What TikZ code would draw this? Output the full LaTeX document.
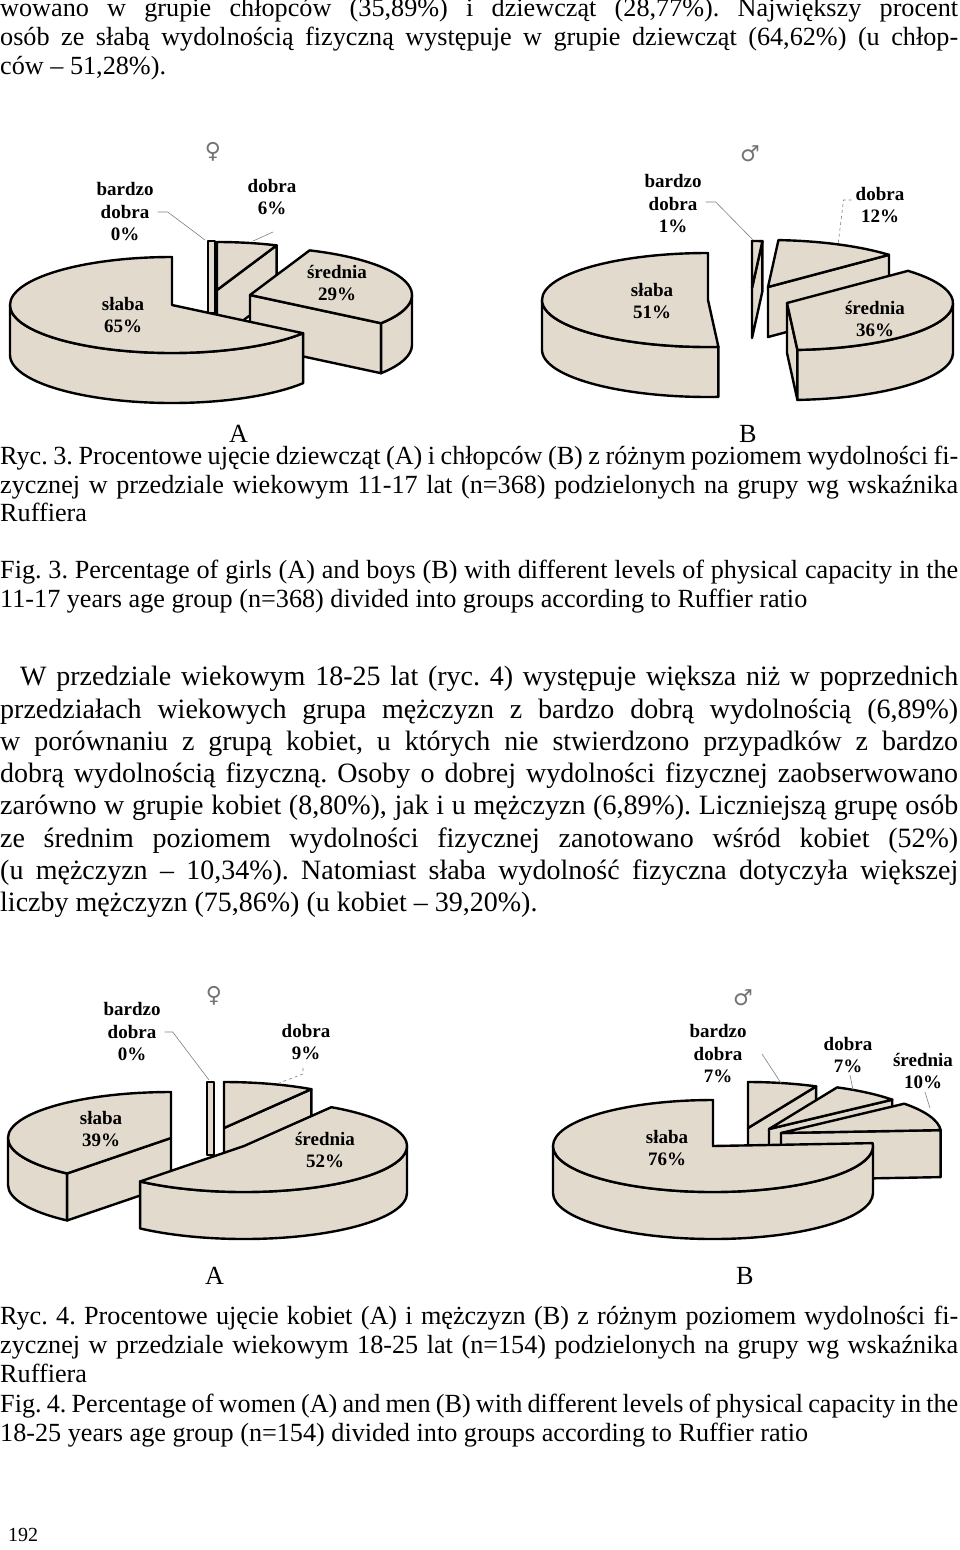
\documentclass[tikz,border=0pt]{standalone}
\usepackage{fontspec}
\setmainfont{Liberation Serif}
\newfontfamily\symfont{DejaVu Sans}
\definecolor{piefill}{RGB}{226,219,205}
\frenchspacing
\tikzset{
 x=1pt,y=1pt,
 pie/.style={fill=piefill,draw=black,line width=2.4pt,line join=round},
 txt/.style={anchor=mid west,inner sep=0,font=\frenchspacing\fontsize{26.2}{28}\selectfont},
 para/.style={anchor=mid west,inner sep=0,font=\frenchspacing\fontsize{28}{30}\selectfont},
 lab/.style={inner sep=0,align=center,font=\fontsize{19}{22.5}\bfseries\selectfont},
 sex/.style={inner sep=0,text=black!55,font=\symfont\fontsize{22}{24}\selectfont},
 lead/.style={draw=black!50,line width=0.6pt}
}
% radial face: cx cy rx ry h angle
\newcommand\radface[6]{\filldraw[pie,shift={(#1,-#2)}] (0,0) -- (#6:#3 and #4) -- ++(0,-#5) -- (0,-#5) -- cycle;}
% outer band: cx cy rx ry h b1 b2
\newcommand\band[7]{\filldraw[pie,shift={(#1,-#2)}] (#6:#3 and #4) arc[start angle=#6,end angle=#7,x radius=#3pt,y radius=#4pt] -- ++(0,-#5) arc[start angle=#7,end angle=#6,x radius=#3pt,y radius=#4pt] -- cycle;}
% top face: cx cy rx ry a1 a2
\newcommand\topface[6]{\filldraw[pie,shift={(#1,-#2)}] (0,0) -- (#5:#3 and #4) arc[start angle=#5,end angle=#6,x radius=#3pt,y radius=#4pt] -- cycle;}
\begin{document}
\begin{tikzpicture}
\useasboundingbox[fill=white] (0,0) rectangle (960,-1550);
% ---- text top
\node[txt] (t1) at (0,-14) {\makebox[958pt][s]{wowano w grupie chłopców (35,89\%) i dziewcząt (28,77\%). Największy procent}};
\node[txt] (t2) at (0,-43) {\makebox[958pt][s]{osób ze słabą wydolnością fizyczną występuje w grupie dziewcząt (64,62\%) (u chłop-}};
\node[txt] (t3) at (0,-72) {ców – 51,28\%).};
% ---- Fig 3A
\filldraw[pie,line width=1.6pt] (208,-241) rectangle (215,-313);
\radface{217}{290}{162}{48}{50}{68.4}
\topface{217}{290}{162}{48}{68.4}{90}
\radface{250}{295}{162}{48}{50}{-36}
\band{250}{295}{162}{48}{50}{-36}{0}
\topface{250}{295}{162}{48}{-36}{68.4}
\band{172}{305}{162}{48}{50}{180}{324}
\topface{172}{305}{162}{48}{90}{324}
\node[sex] (f3) at (213,-152) {♀};
\node[lab] (a3bd) at (125,-212) {bardzo\\dobra\\0\%};
\node[lab] (a3d) at (272,-197) {dobra\\6\%};
\node[lab] (a3s) at (337,-283) {średnia\\29\%};
\node[lab] (a3w) at (123,-315) {słaba\\65\%};
\coordinate (a3bde) at (205,-240);
\coordinate (a3de) at (253,-241);
\draw[lead] (a3bd.east) ++(4,0) -- ++(10,0) -- (a3bde);
\draw[lead] (273,-232) -- (a3de);
\node[txt] (A3) at (229,-440) {A};
% ---- Fig 3B
\radface{752}{288}{166}{47}{50}{86.4}
\topface{752}{288}{166}{47}{86.4}{90}
\radface{768}{287}{166}{47}{50}{43.2}
\topface{768}{287}{166}{47}{43.2}{86.4}
\radface{787}{303}{166}{47}{50}{-86.4}
\band{787}{303}{166}{47}{50}{-86.4}{0}
\topface{787}{303}{166}{47}{-86.4}{43.2}
\band{708}{300}{166}{47}{50}{180}{273.6}
\topface{708}{300}{166}{47}{90}{273.6}
\node[sex] (m3) at (750,-154) {♂};
\node[lab] (b3bd) at (673,-204) {bardzo\\dobra\\1\%};
\node[lab] (b3d) at (880,-205) {dobra\\12\%};
\node[lab] (b3s) at (875,-319) {średnia\\36\%};
\node[lab] (b3w) at (652,-301) {słaba\\51\%};
\coordinate (b3bde) at (753,-240);
\coordinate (b3de) at (838,-245);
\draw[lead] (b3bd.east) ++(4,2) -- ++(10,0) -- (b3bde);
\draw[lead,dashed] (b3d.west) ++(-4,5) -- ++(-8,0) -- (b3de);
\node[txt] (B3) at (739,-440) {B};
% ---- captions fig 3
\node[txt] (c1) at (0,-462) {\makebox[958pt][s]{Ryc. 3. Procentowe ujęcie dziewcząt (A) i chłopców (B) z różnym poziomem wydolności fi-}};
\node[txt] (c2) at (0,-491) {\makebox[958pt][s]{zycznej w przedziale wiekowym 11-17 lat (n=368) podzielonych na grupy wg wskaźnika}};
\node[txt] (c3) at (0,-519) {Ruffiera};
\node[txt] (c4) at (0,-576) {\makebox[958pt][s]{Fig. 3. Percentage of girls (A) and boys (B) with different levels of physical capacity in the}};
\node[txt] (c5) at (0,-605) {11-17 years age group (n=368) divided into groups according to Ruffier ratio};
% ---- paragraph
\node[para] (p1) at (20,-683) {\makebox[938pt][s]{W przedziale wiekowym 18-25 lat (ryc. 4) występuje większa niż w poprzednich}};
\node[para] (p2) at (0,-716) {\makebox[958pt][s]{przedziałach wiekowych grupa mężczyzn z bardzo dobrą wydolnością (6,89\%)}};
\node[para] (p3) at (0,-748) {\makebox[958pt][s]{w porównaniu z grupą kobiet, u których nie stwierdzono przypadków z bardzo}};
\node[para] (p4) at (0,-780) {\makebox[958pt][s]{dobrą wydolnością fizyczną. Osoby o dobrej wydolności fizycznej zaobserwowano}};
\node[para] (p5) at (0,-812) {\makebox[958pt][s]{zarówno w grupie kobiet (8,80\%), jak i u mężczyzn (6,89\%). Liczniejszą grupę osób}};
\node[para] (p6) at (0,-845) {\makebox[958pt][s]{ze średnim poziomem wydolności fizycznej zanotowano wśród kobiet (52\%)}};
\node[para] (p7) at (0,-877) {\makebox[958pt][s]{(u mężczyzn – 10,34\%). Natomiast słaba wydolność fizyczna dotyczyła większej}};
\node[para] (p8) at (0,-909) {liczby mężczyzn (75,86\%) (u kobiet – 39,20\%).};
% ---- Fig 4A
\band{171}{1138}{163}{46}{47}{180}{230.4}
\radface{171}{1138}{163}{46}{47}{230.4}
\topface{171}{1138}{163}{46}{90}{230.4}
\filldraw[pie,line width=1.6pt] (207,-1082) rectangle (214,-1155);
\radface{224}{1128}{163}{46}{47}{57.6}
\topface{224}{1128}{163}{46}{57.6}{90}
\band{244}{1146}{163}{46}{47}{-129.6}{0}
\topface{244}{1146}{163}{46}{-129.6}{57.6}
\node[sex] (f4) at (214,-996) {♀};
\node[lab] (a4bd) at (132,-1032) {bardzo\\dobra\\0\%};
\node[lab] (a4d) at (306,-1042) {dobra\\9\%};
\node[lab] (a4s) at (325,-1150) {średnia\\52\%};
\node[lab] (a4w) at (101,-1129) {słaba\\39\%};
\coordinate (a4bde) at (209,-1080);
\coordinate (a4de) at (279,-1083);
\draw[lead] (a4bd.east) ++(4,0) -- ++(8,0) -- (a4bde);
\draw[lead,dashed] (303,-1068) -- ++(0,-6) -- (a4de);
\node[txt] (A4) at (205,-1282) {A};
% ---- Fig 4B
\radface{748}{1128}{160}{46}{47}{64.8}
\topface{748}{1128}{160}{46}{64.8}{90}
\radface{769}{1129}{160}{46}{47}{39.6}
\topface{769}{1129}{160}{46}{39.6}{64.8}
\radface{781}{1133}{160}{46}{47}{3.6}
\topface{781}{1133}{160}{46}{3.6}{39.6}
\band{713}{1146}{160}{46}{47}{180}{360}
\topface{713}{1146}{160}{46}{90}{363.6}
\node[sex] (m4) at (743,-998) {♂};
\node[lab] (b4bd) at (718,-1054) {bardzo\\dobra\\7\%};
\node[lab] (b4d) at (848,-1055) {dobra\\7\%};
\node[lab] (b4s) at (923,-1071) {średnia\\10\%};
\node[lab] (b4w) at (667,-1148) {słaba\\76\%};
\coordinate (b4bde) at (781,-1083);
\coordinate (b4de) at (853,-1090);
\coordinate (b4se) at (930,-1108);
\draw[lead] (762,-1054) -- (b4bde);
\draw[lead] (b4d.south) ++(2,-2) -- (b4de);
\draw[lead] (b4s.south) ++(2,-3) -- (b4se);
\node[txt] (B4) at (736,-1282) {B};
% ---- captions fig 4
\node[txt] (d1) at (0,-1322) {\makebox[958pt][s]{Ryc. 4. Procentowe ujęcie kobiet (A) i mężczyzn (B) z różnym poziomem wydolności fi-}};
\node[txt] (d2) at (0,-1351) {\makebox[958pt][s]{zycznej w przedziale wiekowym 18-25 lat (n=154) podzielonych na grupy wg wskaźnika}};
\node[txt] (d3) at (0,-1380) {Ruffiera};
\node[txt] (d4) at (0,-1410) {\makebox[958pt][s]{Fig. 4. Percentage of women (A) and men (B) with different levels of physical capacity in the}};
\node[txt] (d5) at (0,-1439) {18-25 years age group (n=154) divided into groups according to Ruffier ratio};
\node[txt,font=\fontsize{20}{22}\selectfont] (pg) at (8,-1539) {192};
\end{tikzpicture}
\end{document}
